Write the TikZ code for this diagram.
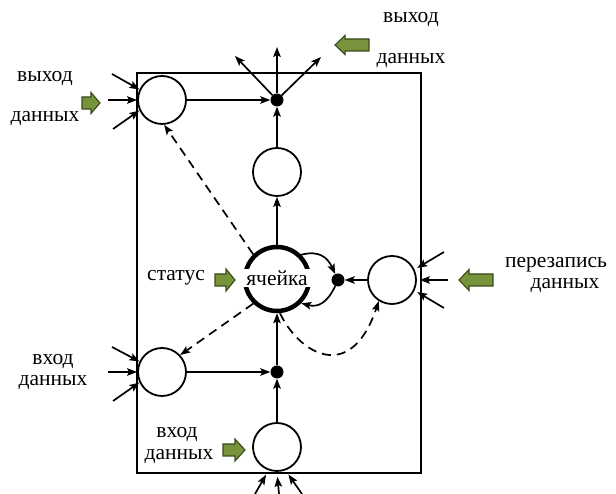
\documentclass[tikz,border=0pt]{standalone}
\usepackage{fontspec}
\setmainfont{Liberation Serif}
\usetikzlibrary{arrows.meta}
\definecolor{gfill}{HTML}{77933C}
\definecolor{gline}{HTML}{3A4A1C}
\begin{document}
\begin{tikzpicture}[x=1pt,y=1pt,
 circ/.style={circle,draw,line width=1.8pt,minimum size=48pt,inner sep=0pt},
 dotn/.style={circle,fill,inner sep=0pt,minimum size=13pt},
 lbl/.style={font=\fontsize{21.5}{24}\selectfont,inner sep=0pt},
 arr/.style={line width=1.7pt,-{Stealth[length=10pt,width=7.5pt,inset=2pt]}},
 darr/.style={arr,dash pattern=on 9pt off 6pt},
 pics/garr/.style args={#1/#2/#3/#4}{code={
   \draw[gline,fill=gfill,line width=1.1pt,line join=miter]
     (-#1/2,-#3/2) -- (#1/2-#4,-#3/2) -- (#1/2-#4,-#2/2) -- (#1/2,0)
     -- (#1/2-#4,#2/2) -- (#1/2-#4,#3/2) -- (-#1/2,#3/2) -- cycle;}}
]
\useasboundingbox (0,0) rectangle (616,494);
\node[draw,line width=1.8pt,minimum width=284pt,minimum height=400pt,inner sep=0pt] (box) at (279,221) {};

% circles and dots
\node[circ] (c1) at (162,394) {};
\node[dotn] (d1) at (277,394) {};
\node[circ] (c2) at (277,322) {};
\node[circle,draw,line width=4.5pt,minimum size=64pt,inner sep=0pt] (cell) at (277,215) {};
\node[lbl,fill=white,inner xsep=4pt,inner ysep=1.5pt] (celltxt) at (277,216) {ячейка};
\node[dotn] (d2) at (338,214) {};
\node[circ] (c3) at (392,214) {};
\node[circ] (c4) at (162,122) {};
\node[dotn] (d3) at (277,122) {};
\node[circ,fill=white] (c5) at (277,47) {};

% labels
\node[lbl] (t1) at (411,474) {выход};
\node[lbl] (t2) at (411,433) {данных};
\node[lbl] (t3) at (45,415) {выход};
\node[lbl] (t4) at (45,375) {данных};
\node[lbl] (t5) at (176,216) {статус};
\node[lbl] (t6) at (556,229) {перезапись};
\node[lbl] (t7) at (565,208) {данных};
\node[lbl] (t8) at (53,132) {вход};
\node[lbl] (t9) at (53,111) {данных};
\node[lbl] (t10) at (177,59) {вход};
\node[lbl] (t11) at (179,37) {данных};

% green arrows
\pic[rotate=180] at (352,449) {garr={34/19/12/10}};
\pic at (91,391) {garr={18/21/12/9}};
\pic at (225,214) {garr={20/22/12/9}};
\pic[rotate=180] at (476,214) {garr={34/21/12/10}};
\pic at (234,44) {garr={22/22/12/10}};

% outputs at top
\coordinate (o1) at (235,438);
\coordinate (o2) at (277,447);
\coordinate (o3) at (321,437);
\draw[arr] (d1) -- (o1);
\draw[arr] (d1) -- (o2);
\draw[arr] (d1) -- (o3);

% inputs to c1
\coordinate (i11) at (112,420);
\coordinate (i12) at (108,394);
\coordinate (i13) at (113,365);
\draw[arr] (i11) -- (c1.155);
\draw[arr] (i12) -- (c1.180);
\draw[arr] (i13) -- (c1.205);

% inputs to c4
\coordinate (i41) at (112,147);
\coordinate (i42) at (108,122);
\coordinate (i43) at (113,93);
\draw[arr] (i41) -- (c4.155);
\draw[arr] (i42) -- (c4.180);
\draw[arr] (i43) -- (c4.205);

% inputs to c3
\coordinate (i31) at (444,242);
\coordinate (i32) at (448,214);
\coordinate (i33) at (444,186);
\draw[arr,shorten >=3pt] (i31) -- (c3.25);
\draw[arr,shorten >=3pt] (i32) -- (c3.0);
\draw[arr,shorten >=3pt] (i33) -- (c3.-25);

% inputs to c5
\coordinate (i51) at (255,0);
\coordinate (i52) at (279,0);
\coordinate (i53) at (302,0);
\draw[arr,shorten >=5pt] (i51) -- (c5.250);
\draw[arr,shorten >=5pt] (i52) -- (c5.270);
\draw[arr,shorten >=5pt] (i53) -- (c5.290);

% internal connectors
\draw[arr] (c1) -- (d1);
\draw[arr] (c2) -- (d1);
\draw[arr] (cell) -- (c2);
\draw[arr] (c3) -- (d2);
\draw[arr] (c4) -- (d3);
\draw[arr] (c5) -- (d3);
\draw[arr] (d3) -- (cell);
\draw[arr] (cell.45) to[out=15,in=115,looseness=1.2] (d2);
\draw[arr] (d2) to[out=-115,in=-15,looseness=1.2] (cell.-45);

% dashed
\draw[darr] (cell.134) -- (c1.-85);
\draw[darr] (cell.-134) -- (c4.43);
\draw[darr] (cell.-85) .. controls (298,142) and (350,108) .. (c3.-122);
\end{tikzpicture}
\end{document}
